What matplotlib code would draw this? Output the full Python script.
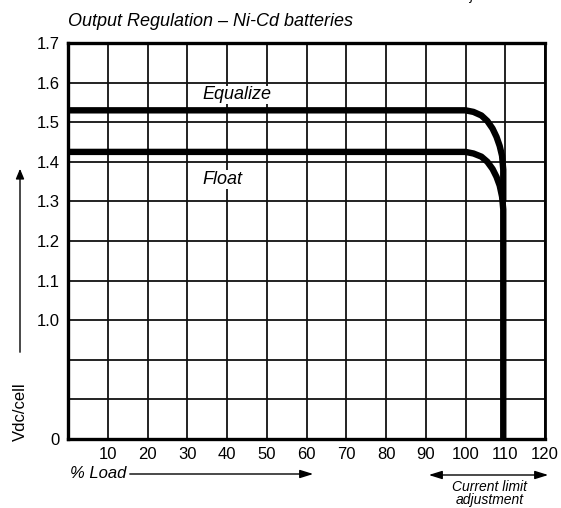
import numpy as np
import matplotlib
matplotlib.use("Agg")
import matplotlib.pyplot as plt
from matplotlib.ticker import FixedLocator

plt.rcParams['font.family'] = ['Liberation Sans Narrow', 'Liberation Sans', 'DejaVu Sans']

# data
load_ticks = [10, 20, 30, 40, 50, 60, 70, 80, 90, 100, 110, 120]
volt_ticks = [0, 1/3, 2/3, 1.0, 1.1, 1.2, 1.3, 1.4, 1.5, 1.6, 1.7]
volt_labels = ['0', '', '', '1.0', '1.1', '1.2', '1.3', '1.4', '1.5', '1.6', '1.7']

eq_load = [0, 100, 102, 104, 105.5, 106.8, 107.8, 108.6, 109.2, 109.5, 109.5]
eq_volt = [1.53, 1.53, 1.526, 1.517, 1.503, 1.484, 1.463, 1.44, 1.415, 1.38, 1.30]
fl_load = [0, 100, 102, 104, 105.5, 106.8, 107.8, 108.6, 109.2, 109.5, 109.5]
fl_volt = [1.425, 1.425, 1.421, 1.413, 1.40, 1.382, 1.362, 1.34, 1.312, 1.28, 0.0]


# broken axis: 0..1.0 takes 3 rows, 1.0..1.7 takes 7 rows
def fwd(v):
    v = np.asarray(v, dtype=float)
    return np.where(v < 1.0, v * 3, 3 + (v - 1.0) * 10)


def inv(r):
    r = np.asarray(r, dtype=float)
    return np.where(r < 3, r / 3, 1.0 + (r - 3) / 10)


fig = plt.figure(figsize=(5.61, 5.08), dpi=100)
ax = fig.add_axes([68/561, 69/508, 477/561, 396/508])
ax.set_yscale('function', functions=(fwd, inv))
ax.set_xlim(0, 120)
ax.set_ylim(0, 1.7)

ax.xaxis.set_major_locator(FixedLocator(load_ticks))
ax.set_xticklabels([str(t) for t in load_ticks], fontsize=12)
ax.yaxis.set_major_locator(FixedLocator(volt_ticks))
ax.set_yticklabels(volt_labels, fontsize=12)
ax.yaxis.set_minor_locator(FixedLocator([]))
ax.tick_params(length=0, pad=6)
ax.grid(True, color='#111111', linewidth=1.3)
ax.set_axisbelow(True)

for side in ['left', 'bottom', 'top']:
    ax.spines[side].set_linewidth(2.4)
ax.spines['right'].set_linewidth(2.0)

ax.plot(eq_load, eq_volt, color='black', linewidth=4.6, solid_capstyle='butt',
        solid_joinstyle='round', zorder=3)
ax.plot(fl_load, fl_volt, color='black', linewidth=4.6, solid_capstyle='butt',
        solid_joinstyle='round', zorder=3, clip_on=False)

ax.text(33.7, 1.569, 'Equalize', style='italic', fontsize=13, va='center', ha='left',
        bbox=dict(facecolor='white', edgecolor='none', pad=0.5))
ax.text(33.7, 1.355, 'Float', style='italic', fontsize=13, va='center', ha='left',
        bbox=dict(facecolor='white', edgecolor='none', pad=0.5))

fig.text(68/561, 1 - 22/508, 'Output Regulation \u2013 Ni-Cd batteries', style='italic',
         fontsize=13, va='center', ha='left')

# y label and arrow
fig.text(20/561, 1 - 412/508, 'Vdc/cell', rotation=90, fontsize=12, va='center', ha='center')
fig.add_artist(matplotlib.patches.FancyArrowPatch(
    (20/561, 1 - 355/508), (20/561, 1 - 166/508), transform=fig.transFigure,
    arrowstyle='-|>,head_length=6,head_width=2.5', color='black', linewidth=1.0))

# x label and arrow
fig.text(70/561, 1 - 474/508, '% Load', style='italic', fontsize=12, va='center', ha='left')
fig.add_artist(matplotlib.patches.FancyArrowPatch(
    (127/561, 1 - 474/508), (316/561, 1 - 474/508), transform=fig.transFigure,
    arrowstyle='-|>,head_length=8,head_width=2.5', color='black', linewidth=1.0))

# current limit adjustment
fig.add_artist(matplotlib.patches.FancyArrowPatch(
    (426/561, 1 - 475/508), (551/561, 1 - 475/508), transform=fig.transFigure,
    arrowstyle='<|-|>,head_length=8,head_width=2.5', color='black', linewidth=1.0))
fig.text(490/561, 1 - 487/508, 'Current limit', style='italic', fontsize=10,
         va='center', ha='center')
fig.text(490/561, 1 - 500/508, 'adjustment', style='italic', fontsize=10,
         va='center', ha='center')
# remnant of the same caption, cut by the top edge as in the reference
fig.text(490/561, 1 + 4/508, 'adjustment', style='italic', fontsize=10,
         va='center', ha='center')

fig.savefig('out.png', dpi=100)
